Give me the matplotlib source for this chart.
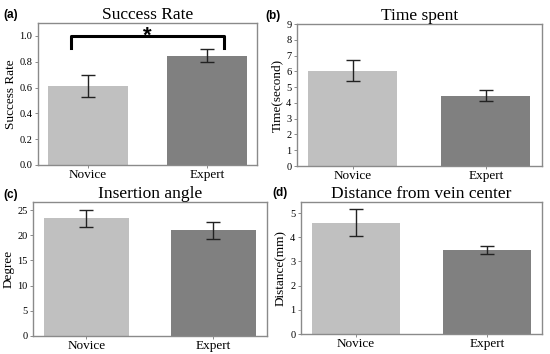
import matplotlib
matplotlib.use("Agg")
import matplotlib.pyplot as plt

groups = ["Novice", "Expert"]
colors = ["#c0c0c0", "#808080"]

success_mean = [0.61, 0.845]
success_err = [0.085, 0.05]

time_mean = [6.05, 4.47]
time_err = [0.65, 0.35]

angle_mean = [23.4, 21.0]
angle_err = [1.7, 1.75]

dist_mean = [4.6, 3.47]
dist_err = [0.56, 0.18]

plt.rcParams['font.family'] = ['Liberation Serif', 'DejaVu Serif']

fig = plt.figure(figsize=(5.5, 3.54), dpi=100)

# rect, values, errors, title, ylabel, ylim, yticks, tag, tag position (px)
panels = [
    ([0.069, 0.534, 0.398, 0.401], success_mean, success_err, "Success Rate", "Success Rate",
     (0, 1.1), [0, 0.2, 0.4, 0.6, 0.8, 1.0], "(a)", (3, 9)),
    ([0.540, 0.531, 0.445, 0.401], time_mean, time_err, "Time spent", "Time(second)",
     (0, 9), list(range(10)), "(b)", (265, 10)),
    ([0.060, 0.051, 0.425, 0.378], angle_mean, angle_err, "Insertion angle", "Degree",
     (0, 26.6), [0, 5, 10, 15, 20, 25], "(c)", (3, 189)),
    ([0.547, 0.056, 0.438, 0.373], dist_mean, dist_err, "Distance from vein center", "Distance(mm)",
     (0, 5.45), [0, 1, 2, 3, 4, 5], "(d)", (272, 187)),
]

axes = []
for rect, mean, err, title, ylabel, ylim, yticks, tag, tpos in panels:
    ax = fig.add_axes(rect)
    ax.bar([0, 1], mean, width=0.67, color=colors,
           yerr=err, capsize=5, error_kw=dict(ecolor="#222222", elinewidth=1.0, capthick=1.0))
    ax.set_xlim(-0.42, 1.42)
    ax.set_ylim(*ylim)
    ax.set_yticks(yticks)
    ax.set_xticks([0, 1])
    ax.set_xticklabels(groups, fontsize=9.5)
    ax.tick_params(axis='y', labelsize=7.5, length=2, width=0.6, color="#777777", pad=2)
    ax.tick_params(axis='x', length=2, width=0.6, color="#777777", pad=1)
    ax.set_ylabel(ylabel, fontsize=9.5, labelpad=2)
    ax.set_title(title, fontsize=12.5, pad=2)
    for s in ax.spines.values():
        s.set_color("#8a8a8a")
        s.set_linewidth(1.0)
    fig.text(tpos[0] / 550, 1 - tpos[1] / 354, tag, fontsize=8.5, fontweight='bold',
             family='Liberation Sans', ha='left', va='top')
    axes.append(ax)

# significance bracket on success rate
ax = axes[0]
ax.plot([-0.14, -0.14, 1.14, 1.14], [0.91, 1.0, 1.0, 0.91], color="black", lw=2.2)
ax.text(0.5, 1.0, "*", ha='center', va='center', fontsize=16, fontweight='bold',
        family='Liberation Sans')

fig.savefig("out.png", dpi=100)
